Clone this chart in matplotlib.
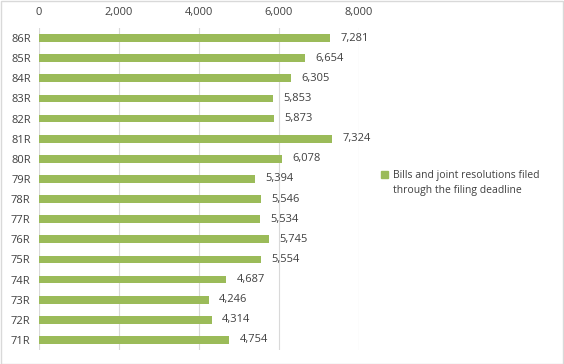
import numpy as np
import matplotlib
matplotlib.use("Agg")
from matplotlib import pyplot as plt
from matplotlib.patches import Rectangle

# Datos
sessions = ["86R", "85R", "84R", "83R", "82R", "81R", "80R", "79R",
            "78R", "77R", "76R", "75R", "74R", "73R", "72R", "71R"]
bills = [7281, 6654, 6305, 5853, 5873, 7324, 6078, 5394,
         5546, 5534, 5745, 5554, 4687, 4246, 4314, 4754]
ticks = [0, 2000, 4000, 6000, 8000]
legend_label = "Bills and joint resolutions filed\nthrough the filing deadline"

plt.rcParams['font.family'] = ['Open Sans', 'DejaVu Sans']
txt = "#404040"
green = "#9bbb59"

fig = plt.figure(figsize=(5.64, 3.64), dpi=100)
ax = fig.add_axes([39/564, 1 - 350/364, 320/564, 322/364])

y = np.arange(len(sessions))
ax.barh(y, bills, height=0.38, color=green, zorder=3)
for yi, v in zip(y, bills):
    ax.text(v + 260, yi, f"{v:,}", va="center", ha="left", fontsize=8, color=txt)

ax.set_xlim(0, 8000)
ax.set_ylim(len(sessions) - 0.5, -0.5)
ax.set_xticks(ticks)
ax.set_xticklabels([f"{t:,}" for t in ticks], fontsize=8, color=txt)
ax.set_yticks(y)
ax.set_yticklabels(sessions, fontsize=8, color=txt)
ax.xaxis.tick_top()
ax.tick_params(length=0, pad=7)
ax.tick_params(axis="y", pad=6)
ax.grid(axis="x", color="#d9d9d9", linewidth=0.8, zorder=0)
for s in ax.spines.values():
    s.set_visible(False)

# Leyenda
fig.patches.append(Rectangle((381/564, 1 - 178/364), 7/564, 7/364,
                             transform=fig.transFigure, color=green))
fig.text(393/564, 1 - 183/364, legend_label, fontsize=7.5, color=txt,
         va="center", ha="left", linespacing=1.4)

fig.patches.append(Rectangle((0.5/564, 0.5/364), 562.5/564, 362.5/364,
                             transform=fig.transFigure, fill=False,
                             edgecolor="#d9d9d9", linewidth=1))

plt.savefig("out.png", dpi=100)
